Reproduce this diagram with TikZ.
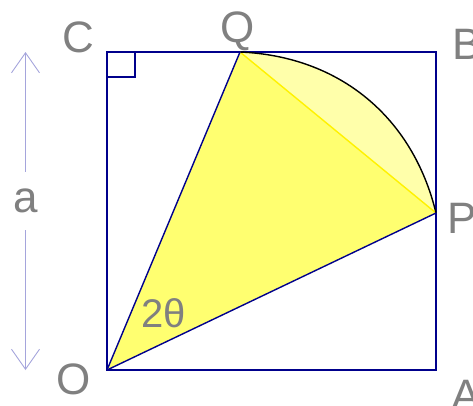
\documentclass[tikz,border=0pt]{standalone}
\usepackage{fontspec}
\setmainfont{Liberation Sans}
\usepackage{tikz}
\usetikzlibrary{arrows.meta}
\definecolor{azulosc}{RGB}{0,0,140}
\definecolor{gris}{RGB}{128,128,128}
\definecolor{lavanda}{RGB}{165,165,220}
\definecolor{amarillo}{RGB}{255,255,112}
\definecolor{amarillocl}{RGB}{255,255,170}

\begin{document}
\begin{tikzpicture}[x=1pt, y=-1pt,
  cuadro/.style={draw=azulosc, line width=1.4pt},
  lado/.style={draw=azulosc, line width=1.4pt, line cap=round},
  arco/.style={draw=black, line width=1.4pt},
  cuerda/.style={draw=yellow, line width=1.4pt},
  cota/.style={draw=lavanda, line width=0.9pt, -{Straight Barb[length=20pt, width=28pt]}},
  letra/.style={text=gris, inner sep=0pt, anchor=base, font=\fontsize{44}{44}\selectfont},
  angulo/.style={text=gris, inner sep=0pt, anchor=base, font=\fontsize{40}{40}\selectfont}]
\useasboundingbox (0,0) rectangle (473,405);
\coordinate (O) at (107,370);
\coordinate (A) at (436,370);
\coordinate (B) at (436,52);
\coordinate (C) at (107,52);
\coordinate (Q) at (240,52);
\coordinate (P) at (436,213);
\coordinate (atop) at (25.5,52);
\coordinate (abot) at (25.5,370);
\fill[amarillo] (O) -- (Q) -- (P) -- cycle;
\fill[amarillocl] (Q) to[bend left=37] (P) -- cycle;
\draw[cuadro] (O) rectangle (B);
\draw[cuadro] (C) rectangle ++(28,25);
\draw[cuerda] (Q) -- (P);
\draw[arco] (Q) to[bend left=37] (P);
\draw[lado] (O) -- (Q);
\draw[lado] (O) -- (P);
\node[letra] (lC) at (78,52) {C};
\node[letra] (lQ) at (237.5,42) {Q};
\node[letra] (lB) at (467,59) {B};
\node[letra] (lP) at (462,233) {P};
\node[letra] (lO) at (74,394) {O};
\node[letra] (lA) at (466,410) {A};
\node[angulo] (ang) at (164,327) {2θ};
\node[text=gris, inner sep=0pt, minimum height=58pt, font=\fontsize{44}{44}\selectfont] (la) at (25.5,201) {a};
\draw[cota] (la) -- (atop);
\draw[cota] (la) -- (abot);
\end{tikzpicture}
\end{document}
